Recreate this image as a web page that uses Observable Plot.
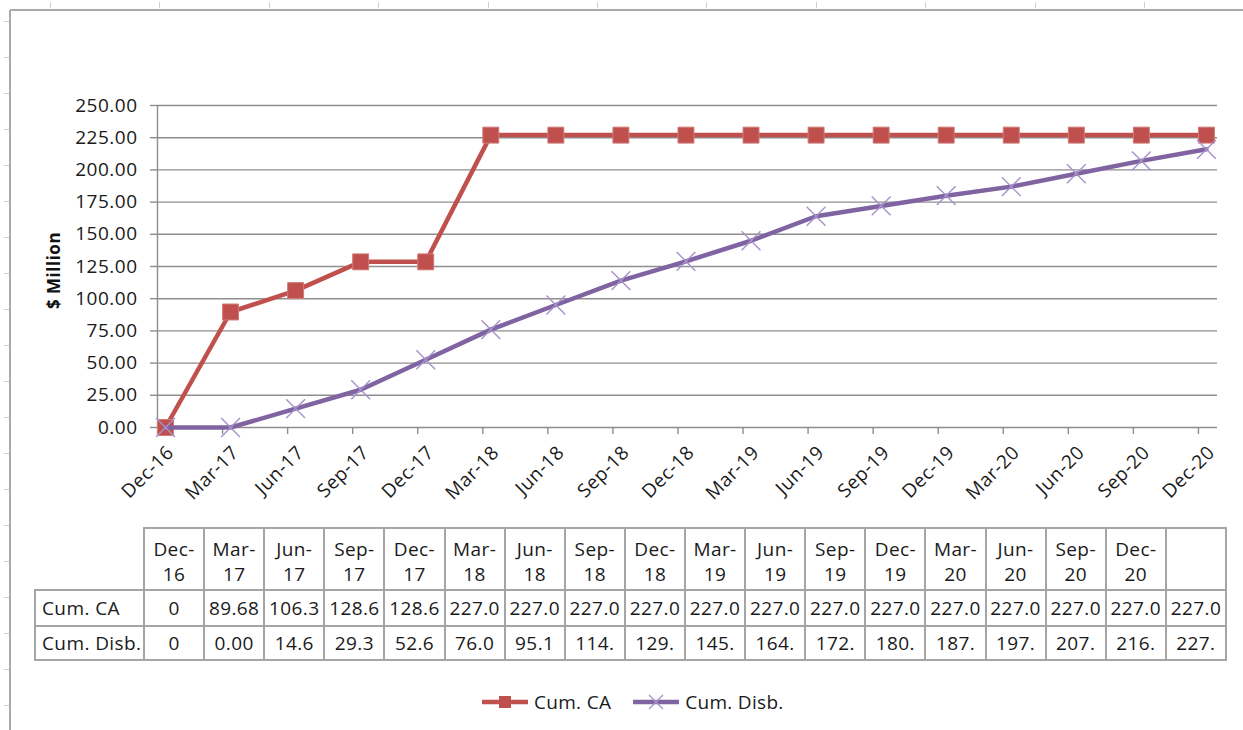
<!DOCTYPE html>
<html>
<head>
<meta charset="utf-8">
<script src="https://cdn.jsdelivr.net/npm/d3@7"></script>
<script src="https://cdn.jsdelivr.net/npm/@observablehq/plot@0.6"></script>
<style>
  html, body { margin: 0; padding: 0; background: #fff; }
  body { width: 1243px; height: 730px; position: relative; overflow: hidden;
         font-family: "Open Sans", sans-serif; color: #1a1a1a; }
  #chart { position: absolute; left: 0; top: 0; }
  #chart svg text { letter-spacing: 0.5px; }
  .frame-top { position: absolute; left: 10px; top: 9px; width: 1233px; height: 2px; background: #a9a9a9; }
  .frame-left { position: absolute; left: 9px; top: 10px; width: 2px; height: 720px; background: #a9a9a9; }
  .mk-h { position: absolute; left: 4px; width: 5px; height: 1px; background: #cfcfcf; }
  .mk-v { position: absolute; top: 2px; width: 1px; height: 6px; background: #cfcfcf; }
  #tbl { position: absolute; left: 34px; top: 527px; border-collapse: collapse; table-layout: fixed;
         font-size: 19px; letter-spacing: 0.4px; width: 1193px; }
  #tbl td { border: 2px solid #a5a5a5; text-align: center; padding: 0; white-space: nowrap; overflow: hidden; }
  #tbl tr.hd td { height: 54px; line-height: 25px; padding-top: 6px; vertical-align: middle; }
  #tbl tr.r1 td { height: 34px; }
  #tbl tr.r2 td { height: 32px; }
  #tbl td.lab { text-align: left; padding-left: 6px; }
  #tbl td.corner { border-top: hidden; border-left: hidden; }
  #legend { position: absolute; top: 689px; left: 482px; display: flex; align-items: center; font-size: 19px; letter-spacing: 0.3px; }
  #legend .item { display: flex; align-items: center; }
  #legend svg { display: block; }
</style>
</head>
<body>
<div class="frame-top"></div>
<div class="frame-left"></div>
<div id="chart"></div>
<table id="tbl"></table>
<div id="legend"></div>
<script>
// ---- data ----
const dates = ["Dec-16","Mar-17","Jun-17","Sep-17","Dec-17","Mar-18","Jun-18","Sep-18","Dec-18",
               "Mar-19","Jun-19","Sep-19","Dec-19","Mar-20","Jun-20","Sep-20","Dec-20"];
const tableHeaders = ["Dec-\n16","Mar-\n17","Jun-\n17","Sep-\n17","Dec-\n17","Mar-\n18","Jun-\n18","Sep-\n18","Dec-\n18",
                      "Mar-\n19","Jun-\n19","Sep-\n19","Dec-\n19","Mar-\n20","Jun-\n20","Sep-\n20","Dec-\n20",""];
const cumCA   = [0, 89.68, 106.3, 128.6, 128.6, 227.0, 227.0, 227.0, 227.0, 227.0, 227.0, 227.0, 227.0, 227.0, 227.0, 227.0, 227.0, 227.0];
const cumDisb = [0, 0.00, 14.6, 29.3, 52.6, 76.0, 95.1, 114.0, 129.0, 145.0, 164.0, 172.0, 180.0, 187.0, 197.0, 207.0, 216.0, 227.0];
const seriesNames = ["Cum. CA", "Cum. Disb."];
const colors = ["#C0504D", "#8064A2"];
const yTicks = [0, 25, 50, 75, 100, 125, 150, 175, 200, 225, 250];

// ---- plot ----
const idx = dates.map((d, i) => i);
const rowsCA = idx.map(i => ({i, v: cumCA[i]}));
const rowsDisb = idx.map(i => ({i, v: cumDisb[i]}));
const X0 = -0.123, X1 = 16.17;           // date-axis padding (Excel style)
const tickPos = idx.map(i => i + X0);     // tick marks sit at period boundaries
const grid = "#8e8e8e";

const chart = Plot.plot({
  width: 1243, height: 515,
  marginLeft: 157, marginRight: 26, marginTop: 105, marginBottom: 88,
  style: {fontFamily: "Open Sans", fontSize: "19px", color: "#1a1a1a", background: "transparent"},
  x: {type: "linear", domain: [X0, X1]},
  y: {domain: [0, 250]},
  marks: [
    Plot.gridY(yTicks, {stroke: grid, strokeOpacity: 1, strokeWidth: 1.4}),
    Plot.axisY(yTicks, {tickSize: 7, tickPadding: 13, tickFormat: d3.format(".2f"), stroke: grid, strokeWidth: 1.4, label: null, fill: "#1a1a1a"}),
    Plot.ruleX([X0], {stroke: grid, strokeWidth: 1.4}),
    Plot.axisX(tickPos, {tickSize: 7, tickFormat: () => "", stroke: grid, strokeWidth: 1.4, label: null}),
    Plot.text(idx, {x: d => d, text: d => dates[d], frameAnchor: "bottom", rotate: -45,
                    textAnchor: "end", lineAnchor: "middle", dx: 5, dy: 22, fill: "#1a1a1a"}),
    Plot.text(["$ Million"], {frameAnchor: "left", rotate: -90, textAnchor: "middle", lineAnchor: "middle",
                              dx: -103, dy: 4, fontWeight: "bold", fontSize: 17, fill: "#111"}),
    Plot.line(rowsCA, {x: "i", y: "v", stroke: colors[0], strokeWidth: 4.5, strokeLinejoin: "round"}),
    Plot.dot(rowsCA, {x: "i", y: "v", symbol: "square", r: 9, fill: colors[0], stroke: "#d07c79", strokeWidth: 1}),
    Plot.line(rowsDisb, {x: "i", y: "v", stroke: colors[1], strokeWidth: 4.5, strokeLinejoin: "round"}),
    Plot.dot(rowsDisb, {x: "i", y: "v", symbol: "times", r: 8.6, stroke: "#a592cc", strokeWidth: 1.4})
  ]
});
document.getElementById("chart").appendChild(chart);

// ---- data table ----
const fmt = (v, i, w) => i === 0 ? "0" : v.toFixed(2).slice(0, w);
const tbl = document.getElementById("tbl");
let html = '<colgroup><col style="width:109px">' + tableHeaders.map(() => '<col>').join("") + '</colgroup>';
html += '<tr class="hd"><td class="corner"></td>' + tableHeaders.map(h => `<td>${h.replace("\n", "<br>")}</td>`).join("") + '</tr>';
html += `<tr class="r1"><td class="lab">${seriesNames[0]}</td>` + cumCA.map((v, i) => `<td>${fmt(v, i, 5)}</td>`).join("") + '</tr>';
html += `<tr class="r2"><td class="lab">${seriesNames[1]}</td>` + cumDisb.map((v, i) => `<td>${fmt(v, i, 4)}</td>`).join("") + '</tr>';
tbl.innerHTML = html;

// ---- legend ----
const legend = document.getElementById("legend");
legend.innerHTML =
  `<div class="item"><svg width="48" height="20"><line x1="0" x2="46" y1="10" y2="10" stroke="${colors[0]}" stroke-width="4.5"/><rect x="17" y="4" width="12" height="12" fill="${colors[0]}"/></svg><span style="margin-left:4px">${seriesNames[0]}</span></div>` +
  `<div class="item" style="margin-left:22px"><svg width="48" height="20"><line x1="0" x2="46" y1="10" y2="10" stroke="${colors[1]}" stroke-width="4.5"/><path d="M16,3L30,17M30,3L16,17" stroke="#a592cc" stroke-width="1.4"/></svg><span style="margin-left:4px">${seriesNames[1]}</span></div>`;

// ---- worksheet frame marks ----
for (let y = 21; y < 730; y += 36) {
  const d = document.createElement("div"); d.className = "mk-h"; d.style.top = y + "px"; document.body.appendChild(d);
}
for (let x = 50; x < 1243; x += 109.4) {
  const d = document.createElement("div"); d.className = "mk-v"; d.style.left = Math.round(x) + "px"; document.body.appendChild(d);
}
</script>
</body>
</html>
